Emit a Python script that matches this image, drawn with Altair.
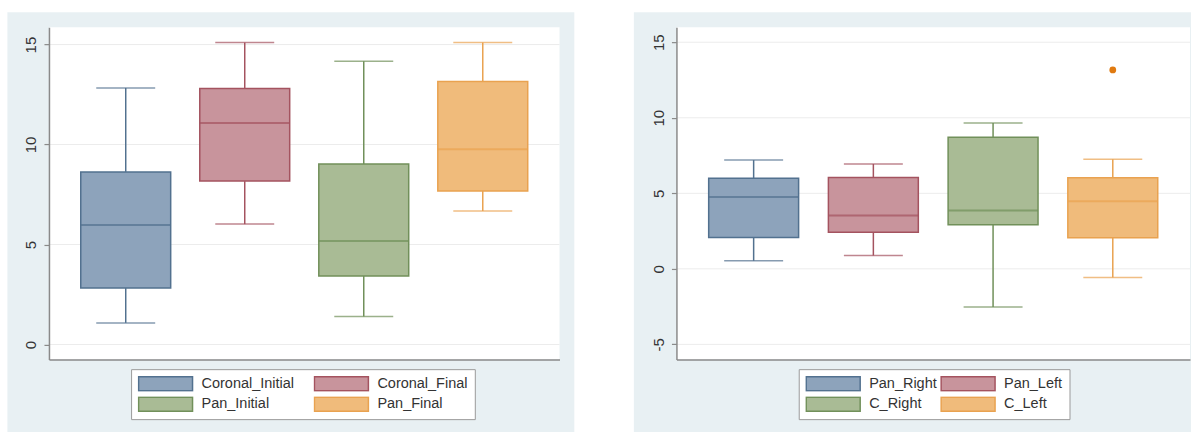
import altair as alt
import pandas as pd

# ---------------- data ----------------
left_cats = ["Coronal_Initial", "Coronal_Final", "Pan_Initial", "Pan_Final"]
left_lo = [1.08, 6.02, 1.40, 6.68]
left_q1 = [2.82, 8.17, 3.43, 7.68]
left_med = [5.98, 11.08, 5.17, 9.77]
left_q3 = [8.63, 12.80, 9.02, 13.15]
left_hi = [12.83, 15.10, 14.17, 15.10]
left_ticks = [0, 5, 10, 15]

right_cats = ["Pan_Right", "Pan_Left", "C_Right", "C_Left"]
right_lo = [0.53, 0.88, -2.52, -0.58]
right_q1 = [2.08, 2.43, 2.92, 2.06]
right_med = [4.75, 3.53, 3.87, 4.48]
right_q3 = [5.99, 6.05, 8.71, 6.03]
right_hi = [7.20, 6.94, 9.66, 7.25]
right_ticks = [-5, 0, 5, 10, 15]
right_outlier_cat = ["C_Left"]
right_outlier_val = [13.17]

fills = ["#8DA3BB", "#C8949C", "#A9BB95", "#F0BB7B"]
strokes = ["#52718F", "#A4535F", "#71905A", "#E9A250"]
panel_bg = "#E8F0F3"
grid_col = "#ECECEC"
axis_col = "#8A8A8A"
FONT = "Liberation Sans"


def panel(cats, lo, q1, med, q3, hi, ydomain, yticks, W, H, bg_left, bg_right,
          leg_x, col_pad, out_cat=None, out_val=None):
    df = pd.DataFrame({"cat": cats, "lo": lo, "q1": q1, "med": med, "q3": q3, "hi": hi})
    one = pd.DataFrame({"a": [0]})
    grid_df = pd.DataFrame({"v": yticks})

    xs = alt.Scale(domain=cats, paddingInner=0, paddingOuter=0.145)
    ys = alt.Scale(domain=ydomain, nice=False, zero=False)
    xaxis = alt.Axis(labels=False, ticks=False, title=None, grid=False, domain=True,
                     domainColor=axis_col, domainWidth=1.5, zindex=1)
    yaxis = alt.Axis(values=yticks, title=None, grid=False, labelAngle=270,
                     labelExpr="datum.value < 0 ? '-' + abs(datum.value) : '' + datum.value",
                     labelFont=FONT, labelFontSize=15, labelColor="#333333",
                     tickSize=5, tickColor=axis_col, tickWidth=1.2,
                     domainColor=axis_col, domainWidth=1.5, labelPadding=5, zindex=1)
    X = alt.X("cat:N", scale=xs, axis=xaxis)
    fill_scale = alt.Scale(domain=cats, range=fills)
    stroke_scale = alt.Scale(domain=cats, range=strokes)
    # line colour scale for whiskers/medians (extra unused domain entry keeps its
    # disabled legend from being merged with the box legend)
    line_scale = alt.Scale(domain=cats + ["~"], range=strokes + ["#000000"])

    leg = alt.Legend(title=None, orient="none", legendX=leg_x, legendY=H + 9.7,
                     columns=2, direction="horizontal",
                     symbolType="M-1,-0.26H1V0.26H-1Z", symbolSize=2916,
                     symbolStrokeWidth=1.5, clipHeight=16, rowPadding=4.7,
                     columnPadding=col_pad, labelOffset=8, labelFontSize=14.5,
                     labelFont=FONT, labelColor="#333333", fillColor="white",
                     strokeColor="#9A9A9A", padding=6.5, labelLimit=400, zindex=2)

    bg = alt.Chart(one).mark_rect(color=panel_bg).encode(
        x=alt.value(bg_left), x2=alt.value(W + bg_right),
        y=alt.value(-15), y2=alt.value(H + 73))
    white = alt.Chart(one).mark_rect(color="white").encode(
        x=alt.value(0), x2=alt.value(W), y=alt.value(0), y2=alt.value(H))
    grid = alt.Chart(grid_df).mark_rule(color=grid_col, strokeWidth=1).encode(
        y=alt.Y("v:Q", scale=ys, axis=yaxis))

    col = alt.Color("cat:N", scale=line_scale, legend=None)
    whisk_hi = alt.Chart(df).mark_rule(strokeWidth=1.5).encode(
        x=X, y=alt.Y("q3:Q", scale=ys, axis=yaxis), y2="hi:Q", color=col)
    whisk_lo = alt.Chart(df).mark_rule(strokeWidth=1.5).encode(
        x=X, y=alt.Y("lo:Q", scale=ys, axis=yaxis), y2="q1:Q", color=col)
    box = alt.Chart(df).mark_bar(size=90, strokeWidth=1.5).encode(
        x=X, y=alt.Y("q1:Q", scale=ys, axis=yaxis), y2="q3:Q",
        fill=alt.Fill("cat:N", scale=fill_scale, legend=leg),
        stroke=alt.Stroke("cat:N", scale=stroke_scale, legend=leg))
    median = alt.Chart(df).mark_tick(size=90, thickness=2).encode(
        x=X, y=alt.Y("med:Q", scale=ys, axis=yaxis), color=col)
    cap_hi = alt.Chart(df).mark_tick(size=59, thickness=1.5).encode(
        x=X, y=alt.Y("hi:Q", scale=ys, axis=yaxis), color=col)
    cap_lo = alt.Chart(df).mark_tick(size=59, thickness=1.5).encode(
        x=X, y=alt.Y("lo:Q", scale=ys, axis=yaxis), color=col)

    layers = [bg, white, grid, whisk_hi, whisk_lo, box, median, cap_hi, cap_lo]
    if out_cat:
        odf = pd.DataFrame({"cat": out_cat, "val": out_val})
        pts = alt.Chart(odf).mark_circle(size=46, opacity=1, color="#E07A10").encode(
            x=X, y=alt.Y("val:Q", scale=ys, axis=yaxis))
        layers.append(pts)
    return alt.layer(*layers).properties(width=W, height=H)


H = 332.6
left = panel(left_cats, left_lo, left_q1, left_med, left_q3, left_hi,
             [-0.75, 15.87], left_ticks, 511, H, -41.6, 14.8, 82.2, 19)
right = panel(right_cats, right_lo, right_q1, right_med, right_q3, right_hi,
              [-6.0, 16.0], right_ticks, 514, H, -42.6, 1.0, 122.4, 3,
              right_outlier_cat, right_outlier_val)

chart = alt.hconcat(left, right, spacing=59).resolve_scale(
    fill="independent", stroke="independent", color="independent",
    x="independent", y="independent"
).configure(
    padding={"left": 7, "top": 12, "right": 0, "bottom": 0},
    background="white"
).configure_view(stroke=None)

chart.save("out.html", embed_options={"renderer": "svg", "actions": False})
